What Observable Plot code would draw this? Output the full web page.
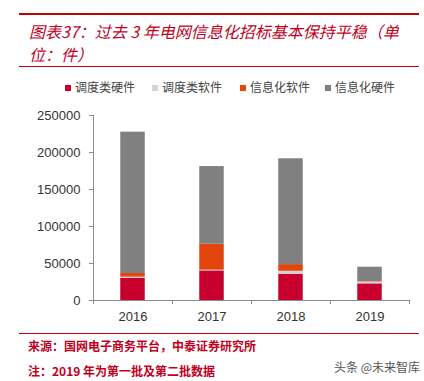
<!DOCTYPE html>
<html><head><meta charset="utf-8">
<script src="https://cdn.jsdelivr.net/npm/d3@7"></script>
<script src="https://cdn.jsdelivr.net/npm/@observablehq/plot@0.6"></script>
<style>
body{margin:0;background:#fff;width:424px;height:381px;position:relative;overflow:hidden;font-family:"Noto Sans CJK SC","Noto Sans",sans-serif;}
.abs{position:absolute;}
.rule{position:absolute;left:19px;width:400px;background:#C00000;}
.title{left:29px;font-size:16px;font-style:italic;color:#C0001F;white-space:nowrap;line-height:20px;height:20px;}
.legend{top:79px;left:0;width:424px;font-size:12px;color:#444;white-space:nowrap;}
.legend span.item{position:absolute;top:0;line-height:16px;}
.legend i{display:inline-block;width:6px;height:6px;margin-right:4px;vertical-align:1px;}
.note{left:28px;font-size:12px;color:#C0001F;font-weight:bold;white-space:nowrap;}
#chart{position:absolute;left:0;top:100px;}
</style></head><body>
<div class="rule" style="top:13px;height:2px;"></div>
<div class="abs title" style="top:21px;">图表37：过去 3 年电网信息化招标基本保持平稳（单</div>
<div class="abs title" style="top:44px;">位：件）</div>
<div class="rule" style="top:66px;height:1px;"></div>
<div class="abs legend" id="legend"></div>
<div id="chart"></div>
<div class="rule" style="top:333px;height:1px;"></div>
<div class="abs note" style="top:337px;">来源：国网电子商务平台，中泰证券研究所</div>
<div class="abs note" style="top:362px;">注：2019 年为第一批及第二批数据</div>
<div class="abs" style="left:334px;top:358px;font-size:12px;color:#555;white-space:nowrap;">头条 @未来智库</div>
<script>
const years = [2016, 2017, 2018, 2019];
const seriesNames = ["调度类硬件", "调度类软件", "信息化软件", "信息化硬件"];
const seriesColors = ["#C8002D", "#D4D2D2", "#E2450E", "#808080"];
const dispatchHardware = [30000, 40000, 35500, 22500];
const dispatchSoftware = [1500, 1000, 4000, 2500];
const infoSoftware = [5000, 35000, 9000, 500];
const infoHardware = [191000, 105000, 143000, 19500];
const yTicks = [0, 50000, 100000, 150000, 200000, 250000];
const legendX = [65, 152, 240, 325];

const seriesValues = [dispatchHardware, dispatchSoftware, infoSoftware, infoHardware];
const halfWidth = 0.155;
const data = [];
years.forEach((yr, i) => {
  seriesNames.forEach((s, j) => {
    data.push({year: yr, x1: yr - halfWidth, x2: yr + halfWidth, series: s, value: seriesValues[j][i]});
  });
});
const xDomain = [years[0] - 0.5, years[years.length - 1] + 0.5];
const boundaries = d3.range(xDomain[0], xDomain[1] + 0.01, 1);

const chart = Plot.plot({
  width: 424,
  height: 230,
  marginLeft: 93,
  marginRight: 15,
  marginTop: 15,
  marginBottom: 30,
  style: {fontFamily: "'Liberation Sans', Arial, sans-serif", fontSize: "13px", color: "#333", background: "transparent"},
  x: {type: "linear", domain: xDomain},
  y: {domain: [0, 250000]},
  color: {domain: seriesNames, range: seriesColors},
  marks: [
    Plot.rectY(data, Plot.stackY({x1: "x1", x2: "x2", y: "value", fill: "series", order: seriesNames})),
    Plot.ruleX([xDomain[0]], {y1: 0, y2: 250000, stroke: "#8c8c8c"}),
    Plot.ruleY([0], {stroke: "#8c8c8c"}),
    Plot.axisY({ticks: yTicks, tickFormat: d => String(d), tickSize: 4, tickPadding: 9, stroke: "#8c8c8c", fill: "#333", label: null}),
    Plot.axisX({ticks: boundaries, tickFormat: () => "", tickSize: 4, stroke: "#8c8c8c", label: null}),
    Plot.axisX({ticks: years, tickFormat: d => String(d), tickSize: 0, tickPadding: 11, fill: "#333", label: null})
  ]
});
document.getElementById("chart").appendChild(chart);

const leg = document.getElementById("legend");
seriesNames.forEach((s, j) => {
  const el = document.createElement("span");
  el.className = "item";
  el.style.left = legendX[j] + "px";
  el.innerHTML = `<i style="background:${seriesColors[j]}"></i>${s}`;
  leg.appendChild(el);
});
</script>
</body></html>
